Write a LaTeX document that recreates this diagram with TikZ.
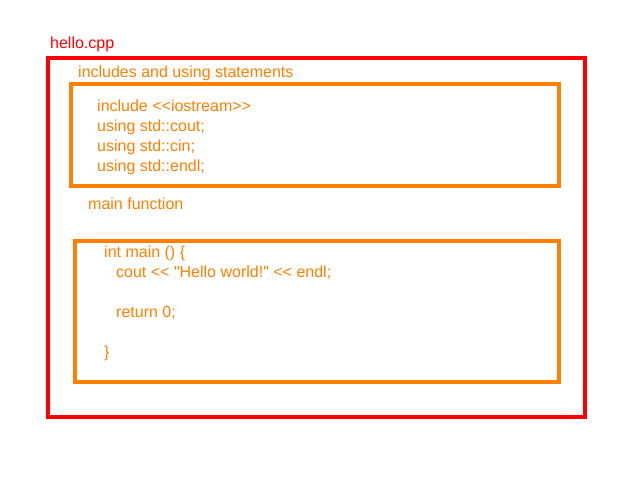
\documentclass[tikz,border=0pt]{standalone}
\usepackage{fontspec}
\newfontfamily\diagfont{Liberation Sans}
\definecolor{boxred}{RGB}{255,0,0}
\definecolor{boxorange}{RGB}{255,128,0}
\begin{document}
\begin{tikzpicture}[x=1pt,y=-1pt,
  redframe/.style={draw=boxred,line width=4pt},
  orangeframe/.style={draw=boxorange,line width=4pt},
  txt/.style={anchor=base west,inner sep=0pt,font=\diagfont\fontsize{16}{20}\selectfont},
  redtxt/.style={txt,text=boxred},
  orangetxt/.style={txt,text=boxorange}]
\useasboundingbox (0,0) rectangle (640,480);
\fill[white] (0,0) rectangle (640,480);
% frames
\draw[redframe] (48,58) rectangle (585,417);
\draw[orangeframe] (71,84) rectangle (559,186);
\draw[orangeframe] (75,241) rectangle (559,382);
% labels
\node[redtxt] (file) at (50,48) {hello.cpp};
\node[orangetxt] (inclbl) at (78,77) {includes and using statements};
\node[orangetxt] (l1) at (97,111) {include <{}<iostream>{}>};
\node[orangetxt] (l2) at (97,131) {using std::cout;};
\node[orangetxt] (l3) at (97,151) {using std::cin;};
\node[orangetxt] (l4) at (97,171) {using std::endl;};
\node[orangetxt] (mainlbl) at (88,209) {main function};
\node[orangetxt] (m1) at (104,257) {int main () \{};
\node[orangetxt] (m2) at (116,277) {cout <{}< "Hello world!" <{}< endl;};
\node[orangetxt] (m3) at (116,317) {return 0;};
\node[orangetxt] (m4) at (104,357) {\}};
\end{tikzpicture}
\end{document}
